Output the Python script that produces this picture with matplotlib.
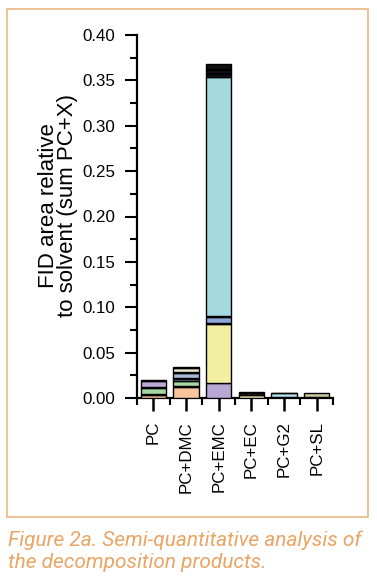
import matplotlib
matplotlib.use("Agg")
import matplotlib.pyplot as plt
from matplotlib.patches import Rectangle
from matplotlib.ticker import MultipleLocator, FixedLocator, FormatStrFormatter

plt.rcParams['font.family'] = ['Liberation Sans', 'DejaVu Sans']

categories = ["PC", "PC+DMC", "PC+EMC", "PC+EC", "PC+G2", "PC+SL"]

# stacked segment values (bottom -> top) for each sample
pc_values  = [0.003, 0.001, 0.007, 0.001, 0.007, 0.001]
dmc_values = [0.012, 0.001, 0.006, 0.002, 0.001, 0.006, 0.001, 0.004, 0.001]
emc_values = [0.016, 0.066, 0.001, 0.006, 0.001, 0.264, 0.003, 0.001, 0.003, 0.001, 0.006]
ec_values  = [0.003, 0.002, 0.001, 0.001]
g2_values  = [0.001, 0.004, 0.001]
sl_values  = [0.001, 0.005]

pc_colors  = ['#f8c49c', '#f3efb0', '#a6d8a6', '#eef4f0', '#bcaad6', '#3a3440']
dmc_colors = ['#f8c49c', '#f3efb0', '#a6d8a6', '#8fa7cf', '#eef2f4', '#a9b9d8', '#2e2e3a', '#ece8cc', '#2e2e3a']
emc_colors = ['#b8a8d5', '#f2f0a0', '#222222', '#8fa6d8', '#222222', '#a6d9df',
              '#151520', '#5a5a68', '#151520', '#5a5a68', '#101010']
ec_colors  = ['#efe6b0', '#4a3a3e', '#b8a8d5', '#2a2a2a']
g2_colors  = ['#f2f0b0', '#b2dce6', '#2a2a2a']
sl_colors  = ['#e8e6c8', '#c6c59c']

all_values = [pc_values, dmc_values, emc_values, ec_values, g2_values, sl_values]
all_colors = [pc_colors, dmc_colors, emc_colors, ec_colors, g2_colors, sl_colors]

fig = plt.figure(figsize=(3.77, 5.84), dpi=100)
fig.patch.set_facecolor('white')

# outer frame
fig.patches.append(Rectangle((7/377, 1-517/584), (368-7)/377, (517-9)/584,
                             transform=fig.transFigure, fill=False,
                             edgecolor='#eebd8e', linewidth=1.3))

ax = fig.add_axes([137/377, 1-398/584, (333-137)/377, (398-35)/584])

for i, (vals, cols) in enumerate(zip(all_values, all_colors)):
    bottom = 0.0
    for v, c in zip(vals, cols):
        ax.bar(i, v, bottom=bottom, width=0.78, color=c, edgecolor='black',
               linewidth=1.0, zorder=3)
        bottom += v

ax.set_xlim(-0.5, 5.5)
ax.set_ylim(0, 0.40)

for s in ['top', 'right']:
    ax.spines[s].set_visible(False)
for s in ['left', 'bottom']:
    ax.spines[s].set_linewidth(1.6)

ax.yaxis.set_major_locator(MultipleLocator(0.05))
ax.yaxis.set_minor_locator(MultipleLocator(0.025))
ax.yaxis.set_major_formatter(FormatStrFormatter('%.2f'))
ax.set_xticks(range(len(categories)))
ax.set_xticklabels(categories, rotation=90)
ax.xaxis.set_minor_locator(FixedLocator([x - 0.5 for x in range(len(categories) + 1)]))

ax.tick_params(axis='y', which='major', direction='out', length=8.5, width=1.5,
               pad=7, labelsize=12.2)
ax.tick_params(axis='y', which='minor', direction='out', length=5, width=1.5)
ax.tick_params(axis='x', which='major', direction='out', length=9.5, width=1.8,
               pad=7, labelsize=12.2)
ax.tick_params(axis='x', which='minor', direction='out', length=5, width=1.5)

fig.text(58/377, 1-205.5/584, "FID area relative\nto solvent (sum PC+X)",
         rotation=90, ha='center', va='center', multialignment='center',
         fontsize=16, linespacing=0.92)

cap_kw = dict(fontsize=15.0, color='#eaa463', style='italic',
              family=['Roboto', 'DejaVu Sans'], fontweight='normal',
              ha='left', va='baseline')
fig.text(8/377, 1-546/584, "Figure 2a. Semi-quantitative analysis of", **cap_kw)
fig.text(8/377, 1-568/584, "the decomposition products.", **cap_kw)

fig.savefig("out.png", dpi=100)
